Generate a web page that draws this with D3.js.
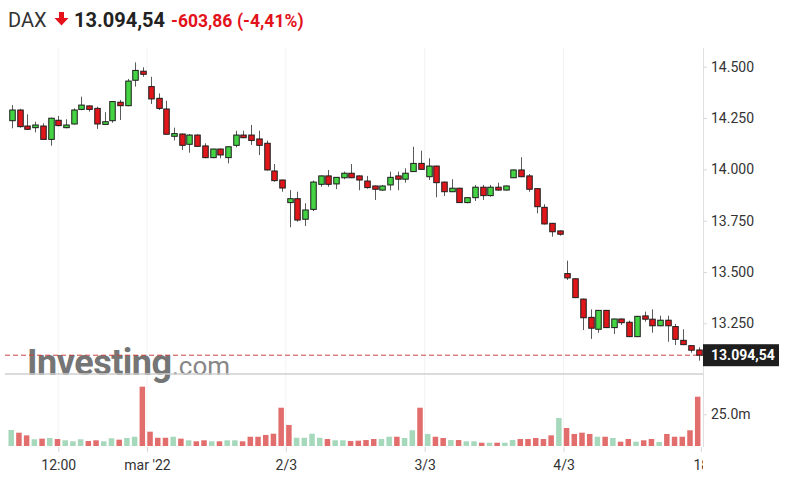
<!DOCTYPE html>
<html><head><meta charset="utf-8">
<script src="https://cdn.jsdelivr.net/npm/d3@7"></script>
<style>html,body{margin:0;padding:0;background:#fff;}svg{display:block;font-family:Roboto,"Liberation Sans",Arial,sans-serif;}</style>
</head><body><svg id="c" width="785" height="488"></svg>
<script>
const symbol = "DAX";
const lastPrice = 13094.54;
const change = -603.86;
const changePct = -4.41;

const openP = [14237,14289,14211,14203,14211,14146,14239,14203,14221,14292,
14309,14297,14219,14237,14327,14310,14434,14478,14403,14346,
14294,14161,14172,14122,14167,14114,14057,14099,14057,14117,
14167,14167,14148,14127,13992,13948,13838,13857,13757,13805,
13927,13968,13929,13959,13981,13968,13943,13919,13899,13924,
13968,13952,13989,14029,13964,14016,13938,13891,13908,13838,
13862,13913,13872,13913,13899,13959,13997,13968,13906,13815,
13737,13700,13492,13467,13368,13279,13221,13313,13229,13271,
13255,13185,13286,13270,13238,13265,13234,13167,13141,13120];
const highP = [14313,14295,14268,14232,14224,14252,14260,14244,14297,14354,
14311,14305,14278,14332,14338,14440,14521,14497,14451,14370,
14334,14203,14175,14172,14170,14127,14100,14101,14111,14188,
14188,14216,14188,14140,14026,13950,13899,13891,13835,13945,
13970,13997,13962,13989,14026,13970,13968,13921,13924,13989,
13989,14005,14110,14091,14054,14018,13940,13952,13910,13863,
13924,13924,13924,13935,13921,13999,14059,13977,13908,13830,
13739,13702,13555,13469,13370,13318,13315,13315,13273,13273,
13263,13286,13307,13318,13287,13287,13247,13221,13143,13133];
const lowP = [14200,14203,14192,14180,14143,14115,14210,14200,14218,14288,
14281,14197,14216,14227,14240,14308,14403,14451,14318,14289,
14169,14141,14094,14081,14110,14054,14054,14054,14029,14107,
14152,14119,14070,13994,13940,13891,13718,13745,13724,13797,
13915,13915,13904,13952,13957,13898,13906,13851,13895,13898,
13898,13935,13987,13998,13948,13864,13870,13889,13836,13834,
13846,13851,13867,13896,13897,13957,13962,13891,13786,13731,
13672,13677,13461,13373,13217,13174,13204,13227,13198,13242,
13183,13183,13258,13204,13236,13160,13144,13144,13107,13068];
const closeP = [14289,14208,14195,14216,14146,14249,14213,14216,14289,14313,
14292,14221,14232,14330,14310,14430,14482,14463,14343,14297,
14171,14174,14117,14167,14112,14057,14099,14070,14110,14167,
14154,14141,14117,13997,13945,13909,13857,13753,13802,13938,
13968,13927,13961,13981,13959,13948,13911,13903,13919,13961,
13952,13981,14029,14000,14016,13935,13891,13908,13838,13862,
13913,13872,13913,13899,13919,13997,13964,13903,13818,13734,
13696,13684,13471,13375,13277,13226,13313,13229,13271,13253,
13185,13284,13270,13238,13265,13238,13172,13146,13119,13094.54];
// volume in millions
const volume = [12.6,10.5,8.4,5.3,5.8,6.3,5.5,4.5,3.7,5.3,
3.9,4.5,3.7,6.1,5.0,6.3,7.3,46.8,11.3,6.5,
6.5,7.3,5.8,4.5,3.7,4.5,3.7,3.7,4.5,4.5,
3.7,7.3,7.3,8.7,9.7,30.2,16.6,6.5,6.5,9.7,
6.5,5.5,4.5,4.5,3.9,4.2,4.7,5.5,5.5,7.3,
7.3,6.3,12.4,30.2,9.5,7.3,6.3,4.7,4.7,3.7,
3.7,2.6,2.6,2.6,2.6,4.7,5.5,5.5,6.3,5.5,
8.4,22.1,14.2,9.5,10.5,9.5,7.3,7.3,6.3,3.4,
5.5,3.4,4.5,5.5,3.2,9.5,7.3,7.3,12.4,38.9];
const volumeUp = [1,0,0,1,0,1,0,1,1,1, 0,0,1,1,0,1,1,0,0,0, 0,1,0,1,0,0,1,0,1,1,
0,0,0,0,0,0,0,1,1,1, 1,0,1,1,0,0,0,0,1,1, 0,1,1,0,1,0,0,1,0,1,
1,0,1,0,1,1,0,0,0,0, 0,1,0,0,0,0,1,0,1,0, 0,1,0,0,1,0,0,0,0,0];

const xTickIdx = [6, 17.5, 35.5, 53.5, 71.5, 89.3];
const xTickLabels = ["12:00", "mar '22", "2/3", "3/3", "4/3", "18"];
const priceTicks = [13250, 13500, 13750, 14000, 14250, 14500];
const volumeTicks = [25];

const svg = d3.select("#c");
const L = 5, R = 703, TOP = 48, SEP = 374, VBASE = 446;
const n = closeP.length;
const x = d3.scaleLinear().domain([0, n - 1]).range([12, 698.5]);
const y = d3.scaleLinear().domain([13250, 14500]).range([323.3, 66.7]);
const yv = d3.scaleLinear().domain([0, 25]).range([VBASE, 414.3]);
const loc = d3.formatLocale({decimal: ",", thousands: ".", grouping: [3], currency: ["", "€"], minus: "-"});
const fmtTick = loc.format(",d"), fmtPrice = loc.format(",.2f");
const fmtFont = "Roboto, 'Liberation Sans', Arial, sans-serif";

const defs = svg.append("defs");
defs.append("clipPath").attr("id", "plotClip").append("rect")
  .attr("x", 0).attr("y", 0).attr("width", R).attr("height", 488);

// header
const hdr = svg.append("g");
hdr.append("text").attr("x", 8).attr("y", 27).attr("font-size", 20).attr("fill", "#333").text(symbol);
hdr.append("path").attr("d", "M59,12 L64,12 L64,18 L68.5,18 L61.5,25.5 L54.5,18 L59,18 Z").attr("fill", "#e3121b");
hdr.append("text").attr("x", 74).attr("y", 27).attr("font-size", 20).attr("font-weight", "bold").attr("fill", "#222")
  .text(fmtPrice(lastPrice));
hdr.append("text").attr("x", 171).attr("y", 26.5).attr("font-size", 17.5).attr("font-weight", "bold").attr("fill", "#e3121b")
  .text(fmtPrice(change));
hdr.append("text").attr("x", 237).attr("y", 26.5).attr("font-size", 17.5).attr("font-weight", "bold").attr("fill", "#e3121b")
  .text("(" + loc.format(".2f")(changePct) + "%)");

// gridlines (faint vertical)
svg.append("g").selectAll("line").data(xTickIdx.slice(0, 5)).join("line")
  .attr("x1", d => x(d)).attr("x2", d => x(d)).attr("y1", TOP).attr("y2", VBASE)
  .attr("stroke", "#f3f3f3").attr("stroke-width", 1);

// watermark
const wm = svg.append("g").attr("fill", "#757575");
wm.append("text").attr("x", 27).attr("y", 375).attr("font-size", 36).attr("font-weight", "bold")
  .attr("letter-spacing", -0.5).text("Investing");
wm.append("text").attr("x", 172).attr("y", 375).attr("font-size", 26).attr("fill", "#878787").text(".com");

// separator and right axis line
svg.append("line").attr("x1", L).attr("x2", R).attr("y1", SEP).attr("y2", SEP).attr("stroke", "#cfcfcf").attr("stroke-width", 1.5);
svg.append("line").attr("x1", R + 0.5).attr("x2", R + 0.5).attr("y1", TOP).attr("y2", VBASE + 1).attr("stroke", "#e0e0e0");

// last price dashed line
svg.append("line").attr("x1", L).attr("x2", R).attr("y1", y(lastPrice)).attr("y2", y(lastPrice))
  .attr("stroke", "#c84646").attr("stroke-width", 1).attr("stroke-dasharray", "5,3");

// volume bars
const bw = 5.5;
svg.append("g").selectAll("rect").data(volume).join("rect")
  .attr("x", (d, i) => x(i) - bw / 2 - 0.8).attr("width", bw)
  .attr("y", d => yv(d)).attr("height", d => VBASE - yv(d))
  .attr("fill", (d, i) => volumeUp[i] ? "#a6d8bb" : "#e26d6d");

// candles
const cg = svg.append("g");
const idx = d3.range(n);
cg.selectAll("line").data(idx).join("line")
  .attr("x1", i => Math.round(x(i)) + 0.5).attr("x2", i => Math.round(x(i)) + 0.5)
  .attr("y1", i => y(highP[i])).attr("y2", i => y(lowP[i]))
  .attr("stroke", "#5a5a5a").attr("stroke-width", 1);
cg.selectAll("rect").data(idx).join("rect")
  .attr("x", i => Math.round(x(i)) + 0.5 - 2.75).attr("width", bw)
  .attr("y", i => y(Math.max(openP[i], closeP[i])))
  .attr("height", i => Math.max(1.5, Math.abs(y(openP[i]) - y(closeP[i]))))
  .attr("fill", i => closeP[i] >= openP[i] ? "#43d343" : "#e0161b")
  .attr("stroke", "#1c1c1c").attr("stroke-width", 1);

// right price axis
const ya = svg.append("g").attr("transform", `translate(${R},0)`)
  .call(d3.axisRight(y).tickValues(priceTicks).tickFormat(fmtTick).tickSize(4).tickPadding(4));
ya.select(".domain").remove();
ya.selectAll(".tick line").attr("stroke", "#d6d6d6");
ya.selectAll(".tick text").attr("font-size", 14).attr("fill", "#333").attr("font-family", fmtFont);

// volume axis
const va = svg.append("g").attr("transform", `translate(${R},0)`)
  .call(d3.axisRight(yv).tickValues(volumeTicks).tickFormat(d => d.toFixed(1) + "m").tickSize(4).tickPadding(4));
va.select(".domain").remove();
va.selectAll(".tick line").attr("stroke", "#d6d6d6");
va.selectAll(".tick text").attr("font-size", 14).attr("fill", "#333").attr("font-family", fmtFont);

// x axis
const xa = svg.append("g").attr("transform", `translate(0,${VBASE + 1})`).attr("clip-path", "url(#plotClip)")
  .call(d3.axisBottom(x).tickValues(xTickIdx).tickFormat((d, i) => xTickLabels[i]).tickSize(5).tickPadding(8));
xa.select(".domain").remove();
xa.selectAll(".tick line").attr("stroke", "#d6d6d6");
xa.selectAll(".tick text").attr("font-size", 14).attr("fill", "#333").attr("font-family", fmtFont);

// last price label
const lp = svg.append("g");
lp.append("rect").attr("x", R).attr("y", y(lastPrice) - 11).attr("width", 76).attr("height", 22).attr("fill", "#1e1e1e");
lp.append("text").attr("x", R + 8).attr("y", y(lastPrice)).attr("dy", "0.36em").attr("font-size", 14)
  .attr("font-weight", "bold").attr("fill", "#fff").text(fmtPrice(lastPrice));
</script></body></html>
